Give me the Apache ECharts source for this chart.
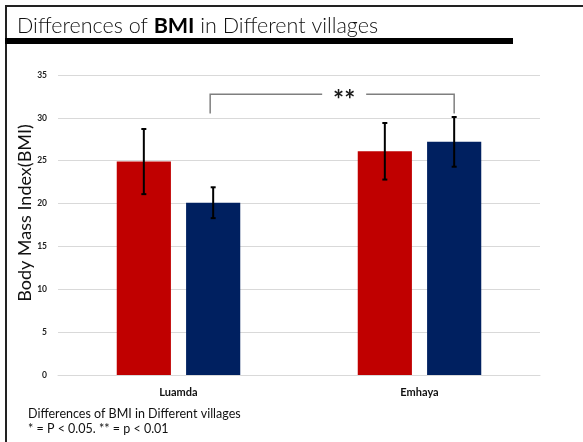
<!DOCTYPE html>
<html>
<head>
<meta charset="utf-8">
<script src="https://cdn.jsdelivr.net/npm/echarts@6/dist/echarts.min.js"></script>
<style>
  html, body { margin: 0; padding: 0; background: #fff; }
  #chart { width: 583px; height: 442px; }
</style>
</head>
<body>
<div id="chart"></div>
<script>
// Villages on the category axis
const villages = ['Luamda', 'Emhaya'];
// Mean BMI per group and its standard deviation
const groupA = [24.9, 26.1];
const groupAErr = [3.8, 3.3];
const groupB = [20.1, 27.2];
const groupBErr = [1.8, 2.9];
// Y axis ticks
const yMin = 0, yMax = 35, yStep = 5;
// Significance bracket between group B bars: [fromVillage, toVillage], [top, drop end]
const bracketPair = [0, 1];
const bracketLevels = [32.75, 30.5];
const bracketLabel = '**';

const RED = '#C00000';
const NAVY = '#002060';
const CAT_GAP = 0.4875;   // barCategoryGap
const BAR_GAP = 0.28;     // barGap
// offset of each bar's centre from its category centre, as a share of the band width
const barOffset = (1 - CAT_GAP) * (1 + BAR_GAP) / (2 * (2 + BAR_GAP));

function errorSeries(means, errs, sign) {
  return {
    type: 'custom',
    silent: true,
    z: 5,
    data: means.map((m, i) => [i, m - errs[i], m + errs[i]]),
    renderItem(params, api) {
      const band = api.size([1, 0])[0];
      const x = api.coord([api.value(0), 0])[0] + sign * band * barOffset;
      const lo = api.coord([api.value(0), api.value(1)])[1];
      const hi = api.coord([api.value(0), api.value(2)])[1];
      const cap = 2.5;
      const st = { stroke: '#000', lineWidth: 2 };
      return {
        type: 'group',
        children: [
          { type: 'line', shape: { x1: x, y1: lo, x2: x, y2: hi }, style: st },
          { type: 'line', shape: { x1: x - cap, y1: hi, x2: x + cap, y2: hi }, style: st },
          { type: 'line', shape: { x1: x - cap, y1: lo, x2: x + cap, y2: lo }, style: st }
        ]
      };
    }
  };
}

const bracketSeries = {
  type: 'custom',
  silent: true,
  z: 6,
  data: [[bracketPair[0], bracketPair[1], bracketLevels[0], bracketLevels[1]]],
  renderItem(params, api) {
    const band = api.size([1, 0])[0];
    const off = band * barOffset;
    const x1 = api.coord([api.value(0), 0])[0] + off - 3;
    const x2 = api.coord([api.value(1), 0])[0] + off;
    const yTop = api.coord([0, api.value(2)])[1];
    const yEnd = api.coord([0, api.value(3)])[1];
    const tx = (x1 + x2) / 2 + 12;
    const half = 22;
    const st = { stroke: '#7f7f7f', lineWidth: 1.5, fill: null };
    return {
      type: 'group',
      children: [
        { type: 'polyline', shape: { points: [[x1, yEnd], [x1, yTop], [tx - half, yTop]] }, style: st },
        { type: 'polyline', shape: { points: [[tx + half, yTop], [x2, yTop], [x2, yEnd]] }, style: st },
        { type: 'text', style: { text: bracketLabel, x: tx, y: yTop + 6, align: 'center', verticalAlign: 'middle',
          fontFamily: 'Lato', fontWeight: 'bold', fontSize: 26, fill: '#1a1a1a' } }
      ]
    };
  }
};

const chart = echarts.init(document.getElementById('chart'), null, { renderer: 'canvas' });
chart.setOption({
  backgroundColor: '#fff',
  animation: false,
  title: {
    left: 12, top: 10,
    text: '{a|Differences of }{b|BMI}{a| in Different villages}',
    textStyle: {
      rich: {
        a: { fontFamily: 'Lato', fontWeight: 300, fontSize: 21.5, color: '#111' },
        b: { fontFamily: 'Lato', fontWeight: 'bold', fontSize: 21.5, color: '#000' }
      }
    }
  },
  grid: { left: 58, right: 43, top: 75, bottom: 67 },
  xAxis: {
    type: 'category',
    data: villages,
    axisLine: { lineStyle: { color: '#d9d9d9', width: 1 } },
    axisTick: { show: false },
    axisLabel: { fontFamily: 'Lato', fontWeight: 'bold', fontSize: 11, color: '#111', margin: 12 }
  },
  yAxis: {
    type: 'value',
    min: yMin, max: yMax, interval: yStep,
    axisLine: { show: false },
    axisTick: { show: false },
    splitLine: { lineStyle: { color: '#d9d9d9', width: 1 } },
    axisLabel: { fontFamily: 'Lato', fontWeight: 'bold', fontSize: 8.5, color: '#222', margin: 11 }
  },
  graphic: [
    { type: 'line', shape: { x1: 5, y1: 6, x2: 583, y2: 6 }, style: { stroke: '#222', lineWidth: 2 } },
    { type: 'line', shape: { x1: 6, y1: 5, x2: 6, y2: 442 }, style: { stroke: '#222', lineWidth: 2 } },
    { type: 'rect', shape: { x: 5, y: 38, width: 508, height: 6 }, style: { fill: '#000' } },
    { type: 'text', x: 25, y: 213, rotation: Math.PI / 2,
      style: { text: 'Body Mass Index(BMI)', align: 'center', verticalAlign: 'middle',
        fontFamily: 'Lato', fontSize: 18, fill: '#111' } },
    { type: 'text', x: 28, y: 414,
      style: { text: 'Differences of BMI in Different villages', verticalAlign: 'middle',
        fontFamily: 'Lato', fontSize: 12.5, fill: '#111' } },
    { type: 'text', x: 28, y: 429,
      style: { text: '* = P < 0.05. ** = p < 0.01', verticalAlign: 'middle',
        fontFamily: 'Lato', fontSize: 12.5, fill: '#111' } }
  ],
  series: [
    { type: 'bar', data: groupA, itemStyle: { color: RED }, barGap: (BAR_GAP * 100) + '%', barCategoryGap: (CAT_GAP * 100) + '%' },
    { type: 'bar', data: groupB, itemStyle: { color: NAVY } },
    errorSeries(groupA, groupAErr, -1),
    errorSeries(groupB, groupBErr, 1),
    bracketSeries
  ]
});
</script>
</body>
</html>
